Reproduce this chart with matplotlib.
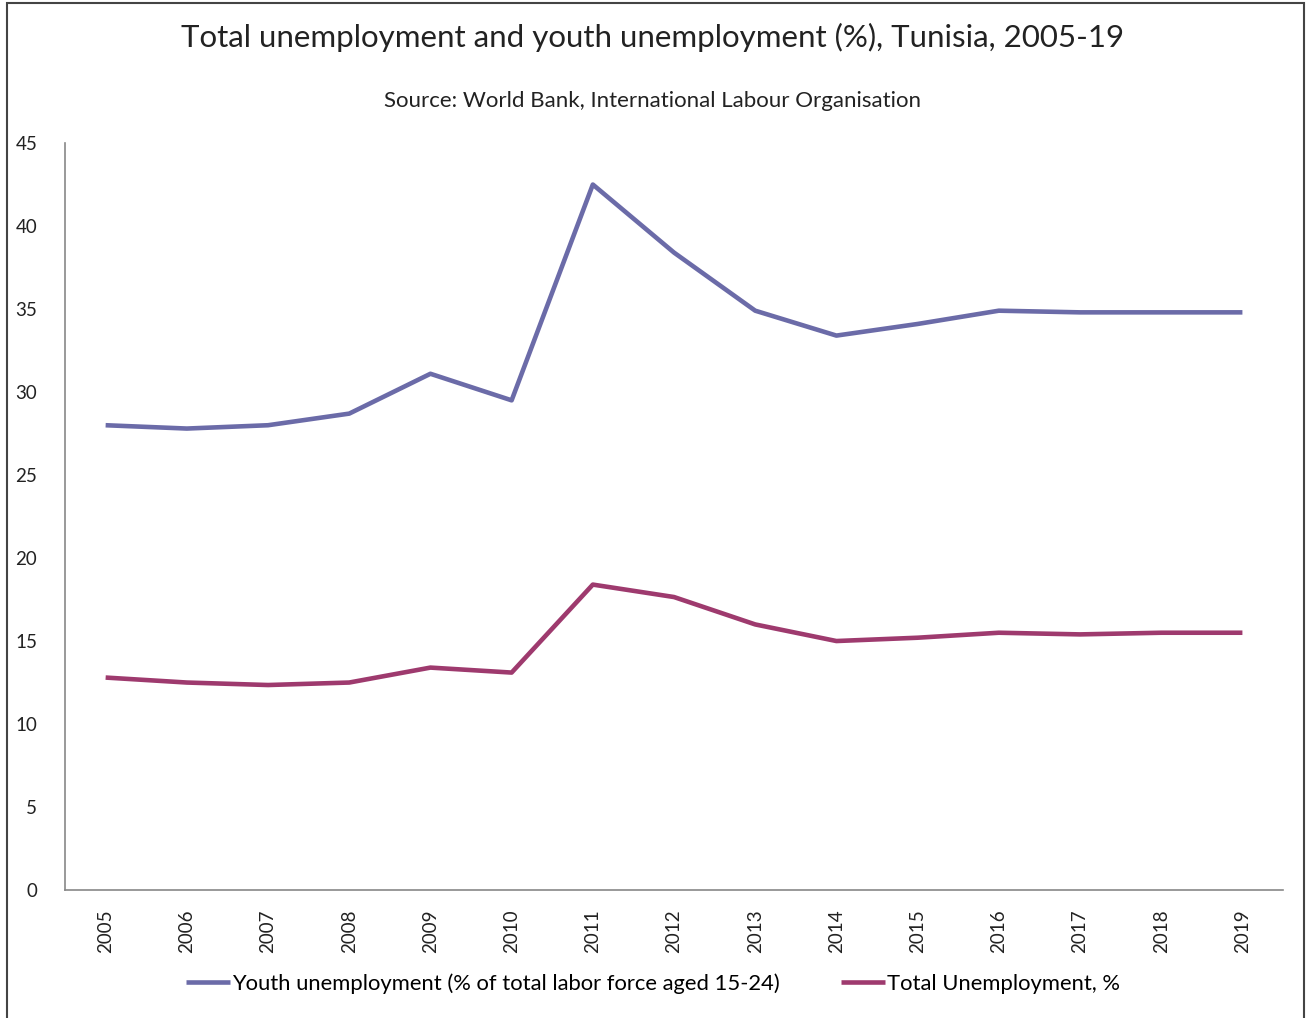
import matplotlib
matplotlib.use("Agg")
import matplotlib.pyplot as plt
from matplotlib.patches import Rectangle

years = [str(y) for y in range(2005, 2020)]
youth = [28.0, 27.8, 28.0, 28.7, 31.1, 29.5, 42.5, 38.4, 34.9, 33.4, 34.1, 34.9, 34.8, 34.8, 34.8]
total = [12.8, 12.5, 12.35, 12.5, 13.4, 13.1, 18.4, 17.65, 16.0, 15.0, 15.2, 15.5, 15.4, 15.5, 15.5]

youth_color = "#6b6ba8"
total_color = "#9e3a6e"

plt.rcParams["font.family"] = ["Lato", "DejaVu Sans"]

fig = plt.figure(figsize=(13.06, 10.18), dpi=100)
ax = fig.add_axes([0.0498, 0.1257, 0.9326, 0.7338])

x = list(range(len(years)))
ax.plot(x, youth, color=youth_color, lw=3.3, solid_capstyle="butt",
        label="Youth unemployment (% of total labor force aged 15-24)")
ax.plot(x, total, color=total_color, lw=3.3, solid_capstyle="butt",
        label="Total Unemployment, %")

ax.set_xlim(-0.5, len(years) - 0.5)
ax.set_ylim(0, 45)
ax.set_yticks(range(0, 50, 5))
ax.set_xticks(x)
ax.set_xticklabels(years, rotation=90)
ax.tick_params(axis="both", length=0, labelsize=13.5, colors="#222222")
ax.tick_params(axis="y", pad=20)
ax.tick_params(axis="x", pad=14)
for s in ["top", "right"]:
    ax.spines[s].set_visible(False)
for s in ["left", "bottom"]:
    ax.spines[s].set_color("#888888")
    ax.spines[s].set_linewidth(1.2)

fig.text(0.5, 0.963, "Total unemployment and youth unemployment (%), Tunisia, 2005-19",
         ha="center", va="center", fontsize=22.5, color="#222222")
fig.text(0.5, 0.901, "Source: World Bank, International Labour Organisation",
         ha="center", va="center", fontsize=16, color="#222222")

ax.legend(loc="center", bbox_to_anchor=(0.5, 0.034), bbox_transform=fig.transFigure,
          ncol=2, frameon=False, fontsize=15.8, handlelength=2.0, handletextpad=0.1,
          columnspacing=2.8)

fig.patches.append(Rectangle((0.0054, -0.01), 0.9931, 1.007, transform=fig.transFigure,
                             fill=False, edgecolor="#444444", lw=1.5))

fig.savefig("out.png", dpi=100, facecolor="white")
